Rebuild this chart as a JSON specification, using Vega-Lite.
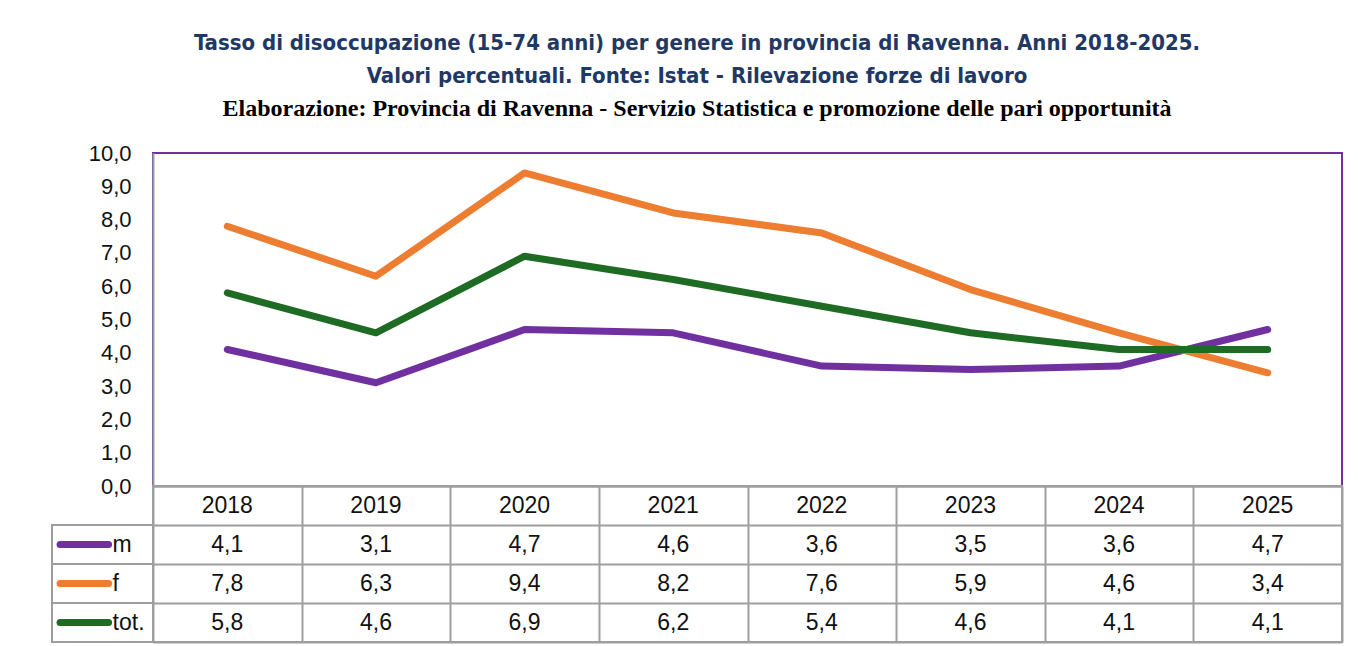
{
  "$schema": "https://vega.github.io/schema/vega-lite/v6.json",
  "padding": {"left": 51, "top": 32, "right": 17, "bottom": 2},
  "background": "white",
  "datasets": {
    "tasso": [
      {"anno": "2018", "serie": "m", "valore": 4.1},
      {"anno": "2019", "serie": "m", "valore": 3.1},
      {"anno": "2020", "serie": "m", "valore": 4.7},
      {"anno": "2021", "serie": "m", "valore": 4.6},
      {"anno": "2022", "serie": "m", "valore": 3.6},
      {"anno": "2023", "serie": "m", "valore": 3.5},
      {"anno": "2024", "serie": "m", "valore": 3.6},
      {"anno": "2025", "serie": "m", "valore": 4.7},
      {"anno": "2018", "serie": "f", "valore": 7.8},
      {"anno": "2019", "serie": "f", "valore": 6.3},
      {"anno": "2020", "serie": "f", "valore": 9.4},
      {"anno": "2021", "serie": "f", "valore": 8.2},
      {"anno": "2022", "serie": "f", "valore": 7.6},
      {"anno": "2023", "serie": "f", "valore": 5.9},
      {"anno": "2024", "serie": "f", "valore": 4.6},
      {"anno": "2025", "serie": "f", "valore": 3.4},
      {"anno": "2018", "serie": "tot.", "valore": 5.8},
      {"anno": "2019", "serie": "tot.", "valore": 4.6},
      {"anno": "2020", "serie": "tot.", "valore": 6.9},
      {"anno": "2021", "serie": "tot.", "valore": 6.2},
      {"anno": "2022", "serie": "tot.", "valore": 5.4},
      {"anno": "2023", "serie": "tot.", "valore": 4.6},
      {"anno": "2024", "serie": "tot.", "valore": 4.1},
      {"anno": "2025", "serie": "tot.", "valore": 4.1}
    ]
  },
  "title": {
    "text": [
      "Tasso di disoccupazione (15-74 anni) per genere in provincia di Ravenna. Anni 2018-2025.",
      "Valori percentuali. Fonte: Istat - Rilevazione forze di lavoro"
    ],
    "subtitle": "Elaborazione: Provincia di Ravenna - Servizio Statistica e promozione delle pari opportunità",
    "anchor": "middle",
    "font": "Liberation Sans Narrow, DejaVu Sans Condensed, Liberation Sans",
    "fontSize": 22,
    "fontWeight": "bold",
    "color": "#1F3864",
    "lineHeight": 33,
    "subtitleFont": "Liberation Serif",
    "subtitleFontSize": 24,
    "subtitleFontWeight": "bold",
    "subtitleColor": "#000000",
    "subtitlePadding": 9,
    "offset": 19
  },
  "columns": 2,
  "spacing": 0,
  "bounds": "flush",
  "concat": [
    {
      "width": 101,
      "height": 333,
      "data": {"name": "tasso"},
      "transform": [{"filter": "datum.anno === '2018' && datum.serie === 'm'"}],
      "mark": {"type": "text"},
      "encoding": {"text": {"value": ""}},
      "view": {"stroke": null}
    },
    {
      "width": 1189,
      "height": 333,
      "data": {"name": "tasso"},
      "view": {"stroke": "#7030A0", "strokeWidth": 2},
      "mark": {"type": "line", "strokeWidth": 7, "strokeCap": "round", "strokeJoin": "round"},
      "encoding": {
        "x": {
          "field": "anno", "type": "ordinal",
          "axis": {"title": null, "labels": false, "ticks": false, "domain": true, "domainColor": "#9E9E9E", "domainWidth": 2}
        },
        "y": {
          "field": "valore", "type": "quantitative",
          "scale": {"domain": [0, 10], "nice": false},
          "axis": {
            "title": null, "values": [0, 1, 2, 3, 4, 5, 6, 7, 8, 9, 10], "format": ".1f",
            "grid": false, "ticks": false, "domainColor": "#9E9E9E", "domainWidth": 2,
            "labelPadding": 22, "labelFontSize": 22, "labelFont": "Liberation Sans", "labelColor": "#111111"
          }
        },
        "color": {
          "field": "serie", "type": "nominal",
          "scale": {"domain": ["m", "f", "tot."], "range": ["#7030A0", "#ED7D31", "#1E6B24"]},
          "legend": null
        }
      }
    },
    {
      "width": 101,
      "height": 156,
      "data": {"name": "tasso"},
      "transform": [{"filter": "datum.anno === '2018'"}],
      "view": {"stroke": null},
      "encoding": {
        "y": {
          "field": "serie", "type": "nominal",
          "scale": {"type": "band", "domain": ["anno", "m", "f", "tot."], "paddingInner": 0, "paddingOuter": 0},
          "axis": null
        }
      },
      "layer": [
        {"mark": {"type": "rect", "fill": "white", "stroke": "#9E9E9E", "strokeWidth": 2}},
        {
          "mark": {"type": "rule", "strokeWidth": 7, "strokeCap": "round"},
          "encoding": {
            "x": {"datum": 0.08, "type": "quantitative", "scale": {"domain": [0, 1]}, "axis": null},
            "x2": {"datum": 0.56},
            "color": {
              "field": "serie", "type": "nominal",
              "scale": {"domain": ["m", "f", "tot."], "range": ["#7030A0", "#ED7D31", "#1E6B24"]},
              "legend": null
            }
          }
        },
        {
          "mark": {"type": "text", "align": "left", "baseline": "middle", "fontSize": 23, "font": "Liberation Sans", "color": "#111111"},
          "encoding": {
            "x": {"datum": 0.6, "type": "quantitative"},
            "text": {"field": "serie"}
          }
        }
      ]
    },
    {
      "width": 1189,
      "height": 156,
      "data": {"name": "tasso"},
      "view": {"stroke": "#9E9E9E", "strokeWidth": 2},
      "encoding": {
        "x": {
          "field": "anno", "type": "ordinal",
          "scale": {"type": "band", "paddingInner": 0, "paddingOuter": 0},
          "axis": {"title": null, "labels": false, "ticks": false, "domain": false, "grid": true, "gridColor": "#9E9E9E", "gridWidth": 2, "gridOpacity": 1, "tickBand": "extent"}
        }
      },
      "layer": [
        {
          "mark": {"type": "text", "fontSize": 23, "font": "Liberation Sans", "color": "#111111"},
          "encoding": {
            "y": {
              "field": "serie", "type": "nominal",
              "scale": {"type": "band", "domain": ["anno", "m", "f", "tot."], "paddingInner": 0, "paddingOuter": 0},
              "axis": {"title": null, "labels": false, "ticks": false, "domain": false, "grid": true, "gridColor": "#9E9E9E", "gridWidth": 2, "gridOpacity": 1, "tickBand": "extent"}
            },
            "text": {"field": "valore", "type": "quantitative", "format": ".1f"}
          }
        },
        {
          "transform": [{"filter": "datum.serie === 'm'"}],
          "mark": {"type": "text", "fontSize": 23, "font": "Liberation Sans", "color": "#111111"},
          "encoding": {
            "y": {"datum": "anno", "type": "nominal"},
            "text": {"field": "anno"}
          }
        }
      ]
    }
  ],
  "config": {
    "view": {"stroke": null},
    "locale": {"number": {"decimal": ",", "thousands": ".", "grouping": [3], "currency": ["€", ""]}}
  }
}
